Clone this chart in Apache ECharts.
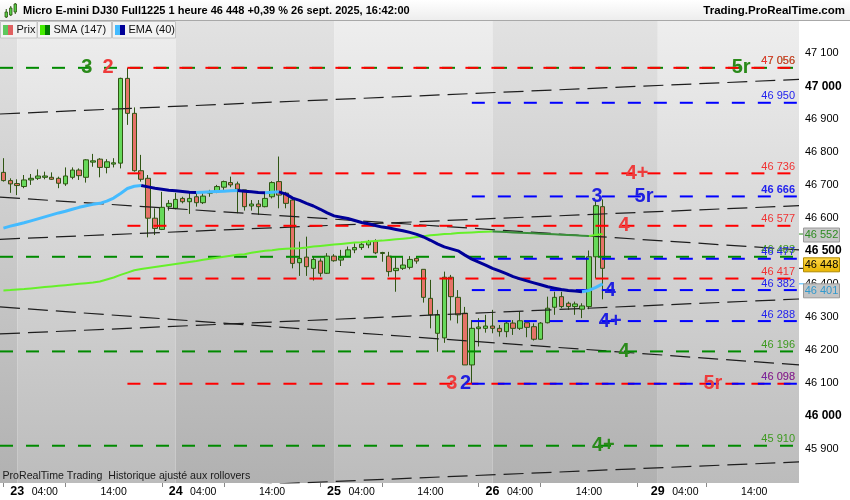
<!DOCTYPE html>
<html><head><meta charset="utf-8"><title>Micro E-mini DJ30</title>
<script src="https://cdn.jsdelivr.net/npm/echarts@6.0.0/dist/echarts.min.js"></script>
<style>html,body{margin:0;padding:0;background:#fff;}#chart{width:850px;height:500px;}</style>
</head><body><div id="chart"></div>
<script>
// ---------------- DATA ----------------
// trading sessions: [day of month, first hour, number of hourly slots]
const sessions = [[22,21,2],[23,0,23],[24,0,23],[25,0,23],[26,0,24],[29,0,21]];
const labelHours = [0,4,14];
const tickHours = [7,21];

const opens  = [46739,46714,46705,46696,46716,46721,46724,46724,46721,46704,46724,46746,46724,46770,46779,46754,46764,46767,47024,46918,
                46744,46721,46600,46566,46635,46630,46660,46650,46665,46647,46676,46680,46694,46708,46704,46686,46637,46643,46635,46665,
                46711,46676,46655,46465,46482,46448,46470,46433,46485,46473,46484,46504,46511,46519,46529,46493,46485,46441,46448,46451,
                46478,46445,46357,46251,46237,46421,46360,46312,46155,46265,46266,46273,46266,46256,46282,46266,46283,46271,46233,46283,
                46330,46362,46342,46332,46324,46332,46483,46635];
const closes = [46714,46704,46699,46716,46721,46728,46728,46718,46706,46728,46746,46729,46777,46774,46754,46771,46768,47024,46918,46744,
                46718,46600,46569,46633,46645,46657,46650,46660,46647,46667,46680,46696,46711,46701,46688,46635,46643,46635,46660,46708,
                46670,46645,46463,46478,46453,46475,46433,46485,46471,46480,46504,46511,46521,46529,46495,46496,46438,46448,46458,46475,
                46470,46360,46307,46307,46421,46362,46307,46155,46266,46270,46273,46266,46256,46282,46266,46289,46269,46233,46282,46327,
                46360,46332,46332,46340,46334,46483,46638,46448];
const lows   = [46711,46677,46670,46691,46701,46716,46718,46716,46691,46698,46718,46716,46708,46756,46724,46736,46754,46751,46883,46741,
                46711,46542,46549,46564,46623,46627,46645,46613,46635,46643,46665,46676,46686,46694,46615,46623,46623,46610,46633,46660,
                46630,46630,46448,46425,46425,46411,46423,46431,46468,46455,46482,46494,46504,46509,46491,46468,46423,46377,46443,46445,
                46462,46344,46266,46195,46222,46290,46281,46155,46098,46211,46253,46251,46241,46239,46246,46261,46239,46229,46231,46281,
                46307,46327,46322,46307,46297,46324,46418,46354];
const highs  = [46782,46721,46718,46731,46734,46748,46741,46739,46726,46754,46754,46751,46779,46795,46782,46779,46782,47026,47056,46936,
                46792,46731,46630,46680,46655,46677,46665,46677,46676,46676,46686,46701,46714,46726,46711,46686,46655,46655,46676,46712,
                46787,46680,46660,46529,46544,46483,46478,46494,46491,46504,46514,46524,46529,46534,46536,46498,46498,46485,46485,46485,
                46483,46445,46413,46322,46438,46428,46382,46331,46291,46297,46307,46322,46276,46286,46291,46317,46283,46281,46285,46362,
                46377,46377,46347,46347,46342,46502,46652,46657];
const ema40  = [46570,46576,46581,46586,46592,46598,46604,46610,46616,46621,46627,46633,46638,46642,46645,46652,46661,46675,46690,46697,
                46699,46695,46691,46688,46685,46683,46681,46679,46678,46679,46680,46681,46682,46683,46684,46682,46680,46678,46677,46679,
                46680,46673,46661,46654,46645,46637,46627,46616,46607,46603,46599,46593,46587,46583,46578,46573,46570,46566,46562,46557,
                46551,46543,46533,46522,46513,46507,46501,46488,46476,46467,46458,46448,46440,46432,46423,46416,46410,46404,46398,46392,
                46388,46384,46381,46379,46377,46381,46390,46401];
const sma147 = [46381,46382,46384,46385,46387,46389,46391,46393,46395,46397,46399,46401,46403,46405,46408,46414,46420,46428,46435,46442,
                46446,46449,46452,46455,46458,46461,46464,46467,46470,46474,46477,46480,46483,46486,46489,46491,46495,46498,46501,46503,
                46506,46507,46508,46509,46511,46514,46516,46518,46520,46522,46524,46526,46527,46529,46531,46532,46534,46536,46538,46540,
                46543,46545,46548,46550,46552,46553,46555,46556,46557,46558,46559,46560,46559,46558,46557,46556,46555,46554,46553,46552,
                46551,46550,46549,46548,46547,46546,46549,46552];

const yTicks = [45900,46000,46100,46200,46300,46400,46500,46600,46700,46800,46900,47000,47100];
const yBold  = [46000,46500,47000];
const Y_MIN = 45797, Y_MAX = 47198;

const greenLevels = [47056,46483,46196,45910];
const redLevels   = [47056,46736,46577,46417,46098];
const blueLevels  = [46950,46666,46477,46382,46288,46098];
const levelStart  = {g:-0.5, r:18, b:68};   // slot where each family of levels begins

// sloping trend lines: [[slot, price],[slot, price]]
const trendLines = [
  [[-0.5,46916],[115.5,47021]],
  [[-0.5,46664],[115.5,46504]],
  [[-0.5,46536],[115.5,46638]],
  [[-0.5,46249],[115.5,46355]],
  [[-0.5,46331],[115.5,46155]],
  [[-0.5,45759],[115.5,45861]]
];
// signal labels: [text, slot, price, family]
const signals = [
  ['3',12.1,47056,'g'],['2',15.2,47056,'r'],['5r',107.1,47056,'g'],
  ['4+',92.0,46736,'r'],['3',86.2,46666,'b'],['5r',93.0,46666,'b'],
  ['4',90.1,46577,'r'],['4',88.1,46382,'b'],['4+',88.1,46288,'b'],
  ['4',90.1,46196,'g'],['3',65.1,46098,'r'],['2',67.1,46098,'b'],
  ['5r',103.0,46098,'r'],['4+',87.1,45910,'g']
];
const lastPrice = 46448, lastSMA = 46552, lastEMA = 46401;
const titleText = 'Micro E-mini DJ30 Full1225 1 heure 46 448 +0,39 % 26 sept. 2025, 16:42:00';
const siteText = 'Trading.ProRealTime.com';
const footText = 'ProRealTime Trading  Historique ajusté aux rollovers';

// ---------------- BUILD ----------------
const FONT = '"Liberation Sans", Arial, sans-serif';
const categories = [], dayStarts = [];
sessions.forEach(([d,h0,n]) => {
  for (let k=0;k<n;k++){
    const h=h0+k;
    if (h===0) dayStarts.push(categories.length);
    categories.push(h<=22 ? d+' '+String(h).padStart(2,'0')+':00' : '');
  }
});
const N = categories.length;
const fmt = v => String(v).replace(/\B(?=(\d{3})+(?!\d))/g,' ');
const COL = {
  g:{line:'#008a00', text:'#3d9a1f', sig:'#2a8a1a'},
  r:{line:'#ff0000', text:'#f03333', sig:'#ee3b3b'},
  b:{line:'#0000ff', text:'#2222ee', sig:'#1f1fe0'}
};
const grad = (a,b) => ({type:'linear',x:0,y:0,x2:0,y2:1,colorStops:[{offset:0,color:a},{offset:1,color:b}]});

// day bands
const bounds = [-0.5, ...dayStarts, N-0.5];
const bandData = [];
for (let k=0;k<bounds.length-1;k++){
  const dark = k%2===0;
  bandData.push([{xAxis:bounds[k], itemStyle:{color: dark?grad('#e2e2e2','#b1b1b1'):grad('#eeeeee','#bcbcbc')}},{xAxis:bounds[k+1]}]);
}

const candleData = opens.map((o,i)=>[o, closes[i], lows[i], highs[i]]);

function trendRuns(vals, upColor, downColor, width){
  const out=[]; let i=0;
  const dir = k => (vals[k+1] >= vals[k] ? 1 : -1);
  while (i < vals.length-1){
    const d = dir(i); let j=i+1;
    while (j < vals.length-1 && dir(j)===d) j++;
    const data = vals.map((v,k)=> (k>=i && k<=j) ? v : null);
    out.push({type:'line', xAxisIndex:0, data, symbol:'none', silent:true, z:6, connectNulls:false,
      lineStyle:{color: d>0?upColor:downColor, width}, emphasis:{disabled:true}});
    i=j;
  }
  return out;
}

const series = [];
series.push({type:'line', xAxisIndex:1, data:[[-0.5,Y_MIN]], symbol:'none', silent:true, z:0,
  lineStyle:{width:0}, markArea:{silent:true, data:bandData}});
series.push({type:'candlestick', xAxisIndex:0, data:candleData, barWidth:5, silent:true, z:2,
  itemStyle:{color:'#66d95a', color0:'#e57368', borderColor:'#2f5513', borderColor0:'#2f5513', borderWidth:1}});
trendLines.forEach(tl => series.push({type:'line', xAxisIndex:1, data:tl, symbol:'none', silent:true, z:3,
  lineStyle:{color:'#1e1e1e', width:1.2, type:[20,8]}, emphasis:{disabled:true}}));
[['g',greenLevels],['r',redLevels],['b',blueLevels]].forEach(([f,arr]) => arr.forEach(p =>
  series.push({type:'line', xAxisIndex:1, data:[[levelStart[f],p],[N-0.5,p]], symbol:'none', silent:true, z:4,
    lineStyle:{color:COL[f].line, width:2, type:[13,13]}, emphasis:{disabled:true}})));
trendRuns(sma147,'#66f02a','#3a8f3a',2).forEach(s=>series.push(s));
trendRuns(ema40,'#44bbff','#000099',3).forEach(s=>series.push(s));

const option = {
  animation:false,
  backgroundColor:'#ffffff',
  grid:{left:0, right:51, top:21, bottom:17},
  xAxis:[
    {type:'category', data:categories, boundaryGap:true, position:'bottom',
     axisLine:{show:false},
     axisTick:{show:true, alignWithLabel:true, length:4, lineStyle:{color:'#888'},
       interval:(i,v)=> v!=='' && tickHours.includes(+v.split(' ')[1].slice(0,2))},
     axisLabel:{show:true, margin:2, hideOverlap:false,
       interval:(i,v)=> v!=='' && labelHours.includes(+v.split(' ')[1].slice(0,2)),
       formatter:(v)=>{ if(!v) return ''; const [d,t]=v.split(' '); return t==='00:00' ? '{d|'+d+'}' : '{t|'+t+'}'; },
       rich:{d:{fontFamily:FONT,fontSize:12.5,fontWeight:'bold',color:'#000',lineHeight:14},
             t:{fontFamily:FONT,fontSize:10.5,color:'#000',lineHeight:14}}},
     splitLine:{show:false}},
    {type:'value', min:-0.5, max:N-0.5, show:false}
  ],
  yAxis:{type:'value', position:'right', min:Y_MIN, max:Y_MAX, scale:true,
    axisLine:{show:true, lineStyle:{color:'#9a9a9a', width:1}},
    axisTick:{show:true, length:4, customValues:yTicks, lineStyle:{color:'#666'}},
    axisLabel:{show:true, margin:6, customValues:yTicks,
      formatter:v=> yBold.includes(v) ? '{b|'+fmt(v)+'}' : '{n|'+fmt(v)+'}',
      rich:{n:{fontFamily:FONT,fontSize:11,color:'#000'}, b:{fontFamily:FONT,fontSize:12,fontWeight:'bold',color:'#000'}}},
    splitLine:{show:false}},
  series
};

const chart = echarts.init(document.getElementById('chart'));
chart.setOption(option);

// ---------------- ANNOTATIONS (positioned via the chart's own scales) ----------------
const px = (x,y) => chart.convertToPixel({xAxisIndex:1, yAxisIndex:0},[x,y]);
const rightX = px(N-0.5, Y_MIN)[0];
const G = [];
const Z = 50;
// header
G.push({type:'rect', z:Z, shape:{x:0,y:0,width:850,height:20}, style:{fill:new echarts.graphic.LinearGradient(0,0,0,1,[{offset:0,color:'#ffffff'},{offset:1,color:'#ededed'}])}});
G.push({type:'line', z:Z, shape:{x1:0,y1:20.5,x2:850,y2:20.5}, style:{stroke:'#a8a8a8', lineWidth:1}});
[[5,12,5,9,18],[9.5,8,7,6,16],[14,4,8,3,14]].forEach(([x,y,h,wt,wb])=>{
  G.push({type:'line', z:Z+1, shape:{x1:x+1.25,y1:wt,x2:x+1.25,y2:wb}, style:{stroke:'#2f5513',lineWidth:1}});
  G.push({type:'rect', z:Z+2, shape:{x:x,y:y,width:2.5,height:h}, style:{fill:'#55cc44', stroke:'#2f5513', lineWidth:0.8}});
});
G.push({type:'text', z:Z+1, x:23, y:10.5, style:{text:titleText, font:'bold 11px '+FONT, fill:'#000', textAlign:'left', textVerticalAlign:'middle'}});
G.push({type:'text', z:Z+1, x:845, y:10.5, style:{text:siteText, font:'bold 11.5px '+FONT, fill:'#000', textAlign:'right', textVerticalAlign:'middle'}});
// legend boxes
[[0.5,36.5,'Prix','#5cc85c','#e06060'],[37.5,74,'SMA (147)','#44ee00','#007a00'],[112.5,63,'EMA (40)','#44bbff','#000099']].forEach(([x,w,t,c1,c2])=>{
  G.push({type:'rect', z:Z, shape:{x:x,y:21.5,width:w,height:16.5}, style:{fill:'#f3f3f3', stroke:'#c4c4c4', lineWidth:1}});
  G.push({type:'rect', z:Z+1, shape:{x:x+2.5,y:25,width:5,height:10}, style:{fill:c1}});
  G.push({type:'rect', z:Z+1, shape:{x:x+7.5,y:25,width:5,height:10}, style:{fill:c2}});
  G.push({type:'text', z:Z+1, x:x+16, y:30, style:{text:t, font:'11px '+FONT, fill:'#111', textAlign:'left', textVerticalAlign:'middle'}});
});
// footer note
G.push({type:'text', z:Z, x:2.5, y:476.5, style:{text:footText, font:'10.6px '+FONT, fill:'#1a1a1a', textAlign:'left', textVerticalAlign:'middle'}});
// level value labels
const levelLabel = (f,p,opts={}) => {
  const y = px(0,p)[1];
  G.push({type:'text', z:Z, x:rightX-4, y:y-1, style:{text:fmt(p), font:(opts.bold?'bold ':'')+'11px '+FONT, fill:COL[f].text, opacity:opts.op||1, textAlign:'right', textVerticalAlign:'bottom'}});
};
greenLevels.forEach(p=>levelLabel('g',p));
redLevels.forEach(p=>levelLabel('r',p));
blueLevels.forEach(p=>levelLabel('b',p,{bold:p===46666, op:p===46098?0.6:1}));
// signal labels
signals.forEach(([t,x,p,f])=>{
  const [X,Y] = px(x,p);
  G.push({type:'text', z:Z+2, x:X, y:Y, style:{text:t, font:'bold 20px '+FONT, fill:COL[f].sig, textAlign:'center', textVerticalAlign:'middle'}});
});
// value boxes on the price axis
[[lastSMA,'#2e8b22','#c8c8c8','#9a9a9a',1,'#2e8b22'],
 [lastPrice,'#000000',grad('#ffd84a','#e8b400'),'#b08a00',-3.5,'#000000'],
 [lastEMA,'#3399cc','#c4c4c4','#9a9a9a',7,'#44bbff']].forEach(([v,tc,bg,bc,off,tick])=>{
  const y = px(0,v)[1];
  G.push({type:'line', z:Z, shape:{x1:rightX,y1:y,x2:rightX+5,y2:y}, style:{stroke:tick,lineWidth:1}});
  G.push({type:'rect', z:Z+1, shape:{x:rightX+4.5,y:y+off-7,width:36,height:14}, style:{fill:bg, stroke:bc, lineWidth:1}});
  G.push({type:'text', z:Z+2, x:rightX+22.5, y:y+off, style:{text:fmt(v), font:'11px '+FONT, fill:tc, textAlign:'center', textVerticalAlign:'middle'}});
});
chart.setOption({graphic:G});
</script>
</body></html>
